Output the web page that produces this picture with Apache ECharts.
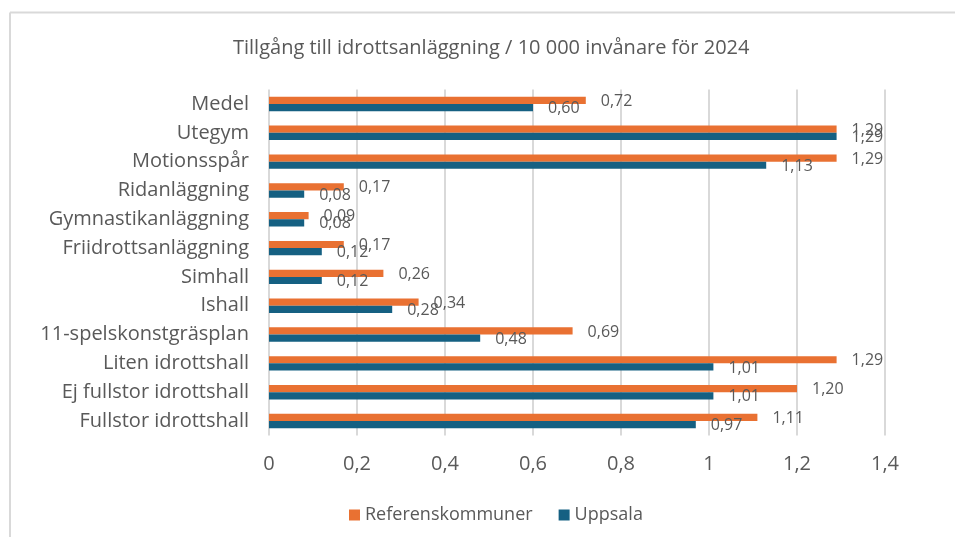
<!DOCTYPE html>
<html>
<head>
<meta charset="utf-8">
<script src="https://cdn.jsdelivr.net/npm/echarts@6/dist/echarts.min.js"></script>
<style>
  html, body { margin: 0; padding: 0; background: #fff; }
  #main-chart { width: 955px; height: 537px; }
</style>
</head>
<body>
<div id="main-chart"></div>
<script>
// kategorier, nerifrån och upp
const categories = [
  'Fullstor idrottshall', 'Ej fullstor idrottshall', 'Liten idrottshall',
  '11-spelskonstgräsplan', 'Ishall', 'Simhall', 'Friidrottsanläggning',
  'Gymnastikanläggning', 'Ridanläggning', 'Motionsspår', 'Utegym', 'Medel'
]
const referensValues = [1.11, 1.20, 1.29, 0.69, 0.34, 0.26, 0.17, 0.09, 0.17, 1.29, 1.29, 0.72]
const uppsalaValues = [0.97, 1.01, 1.01, 0.48, 0.28, 0.12, 0.12, 0.08, 0.08, 1.13, 1.29, 0.60]
const xTicks = { min: 0, max: 1.4, interval: 0.2 }

const textColor = '#595959'
const font = 'Open Sans'

const fmtLabel = (p) => p.value.toFixed(2).replace('.', ',')

const myChart = echarts.init(document.getElementById('main-chart'))

const option = {
  animation: false,
  color: ['#E97132', '#156082'],
  textStyle: { fontFamily: font },
  title: {
    text: 'Tillgång till idrottsanläggning / 10 000 invånare för 2024',
    left: 228,
    top: 33,
    textStyle: { color: textColor, fontSize: 20, fontWeight: 'normal', fontFamily: font }
  },
  // ram runt diagrammet (bara topp och vänster syns)
  graphic: [
    { type: 'line', shape: { x1: 10, y1: 12.5, x2: 955, y2: 12.5 }, style: { stroke: '#D9D9D9', lineWidth: 2 } },
    { type: 'line', shape: { x1: 10, y1: 12.5, x2: 10, y2: 537 }, style: { stroke: '#D9D9D9', lineWidth: 2 } }
  ],
  legend: {
    data: ['Referenskommuner', 'Uppsala'],
    bottom: 8,
    left: 344,
    itemWidth: 11,
    itemHeight: 11,
    itemGap: 26,
    icon: 'rect',
    textStyle: { color: textColor, fontSize: 18, fontFamily: font }
  },
  grid: {
    left: 269,
    right: 70,
    top: 89.6,
    bottom: 101.6,
    containLabel: false
  },
  xAxis: {
    type: 'value',
    min: xTicks.min,
    max: xTicks.max,
    interval: xTicks.interval,
    axisLine: { show: false },
    axisTick: { show: false },
    axisLabel: {
      color: textColor,
      fontSize: 20,
      margin: 19,
      formatter: (v) => String(Math.round(v * 10) / 10).replace('.', ',')
    },
    splitLine: { lineStyle: { color: '#D9D9D9', width: 2 } }
  },
  yAxis: {
    type: 'category',
    data: categories,
    axisLine: { show: false },
    axisTick: { show: false },
    axisLabel: { color: textColor, fontSize: 20, margin: 20 }
  },
  series: [
    {
      name: 'Referenskommuner',
      type: 'bar',
      data: referensValues,
      barGap: '0%',
      barCategoryGap: '50%',
      label: {
        show: true,
        position: 'right',
        distance: 15,
        offset: [0, 1],
        color: textColor,
        fontSize: 16,
        formatter: fmtLabel
      }
    },
    {
      name: 'Uppsala',
      type: 'bar',
      data: uppsalaValues,
      barGap: '0%',
      barCategoryGap: '50%',
      label: {
        show: true,
        position: 'right',
        distance: 15,
        offset: [0, 1],
        color: textColor,
        fontSize: 16,
        formatter: fmtLabel
      }
    }
  ]
}

myChart.setOption(option)
</script>
</body>
</html>
